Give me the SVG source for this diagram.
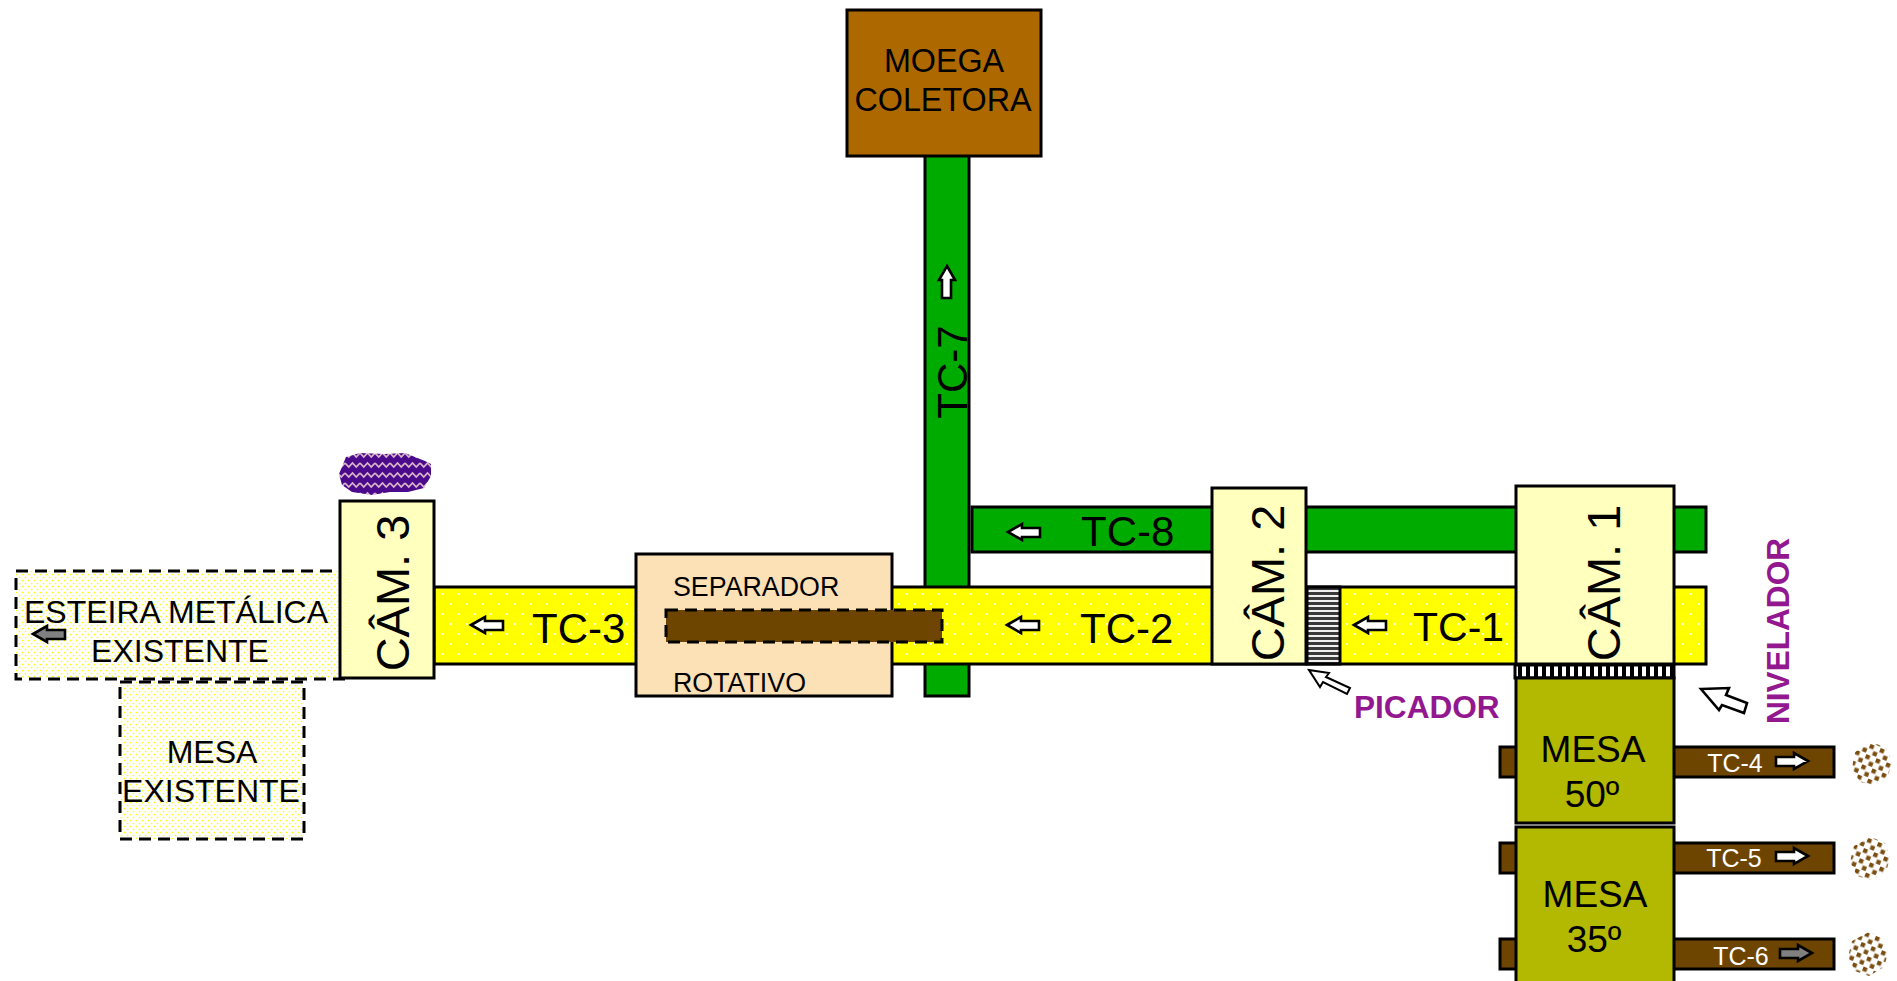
<svg xmlns="http://www.w3.org/2000/svg" width="1897" height="981" viewBox="0 0 1897 981">
<style>
text{font-family:"Liberation Sans",Arial,sans-serif;fill:#000}
.b{stroke:#000;stroke-width:3}
.green{fill:#00ab00}
.yel{fill:url(#pY)}
.cam{fill:#ffffbe}
.mesa{fill:#b3b800}
.brown{fill:#6e4500}
.dash{fill:url(#pD);stroke:#000;stroke-width:3;stroke-dasharray:12 7}
.arr{fill:#fff;stroke:#000;stroke-width:2.6}
.c{text-anchor:middle}
.pur{fill:#93188f;font-weight:bold;font-size:31.6px}
.w{fill:#fff;font-size:25px}
</style>
<defs>
<pattern id="pY" width="16" height="20" patternUnits="userSpaceOnUse"><rect width="16" height="20" fill="#ffff00"/><circle cx="3" cy="4" r="1.1" fill="#fff"/><circle cx="11" cy="14" r="1.1" fill="#fff"/></pattern>
<pattern id="pD" width="6" height="6" patternUnits="userSpaceOnUse"><rect width="6" height="6" fill="#fff"/><circle cx="1.5" cy="1.5" r="0.85" fill="#ffff00"/><circle cx="4.5" cy="4.5" r="0.85" fill="#ffff00"/></pattern>
<pattern id="pW" width="15" height="10" patternUnits="userSpaceOnUse"><rect width="15" height="10" fill="#4b0a8c"/><path d="M0 3 L3.75 7 L7.5 3 L11.25 7 L15 3" fill="none" stroke="#d8b4c8" stroke-width="1.8"/></pattern>
<pattern id="pS" width="6" height="5" patternUnits="userSpaceOnUse"><rect width="6" height="5" fill="#3a3a3a"/><rect width="6" height="2" fill="#f0f0f0"/></pattern>
<pattern id="pT" width="8" height="14" patternUnits="userSpaceOnUse"><rect width="8" height="14" fill="#000"/><rect x="2" width="4" height="14" fill="#fff"/></pattern>
<pattern id="pG" width="11" height="11" patternUnits="userSpaceOnUse" patternTransform="rotate(22)"><rect width="11" height="11" fill="#fff"/><rect x="0" y="0" width="4.4" height="4.4" fill="#7a4d10"/><rect x="5.5" y="5.5" width="4.4" height="4.4" fill="#7a4d10"/></pattern>
<path id="aL" d="M0 0 L14 -8 V-4 H32 V5 H14 V8 Z"/>
<path id="aR" d="M32 0 L18 -8 V-4 H0 V5 H18 V8 Z"/>
</defs>

<g id="tc7"><rect class="green b" x="925" y="150" width="44" height="546"/><text font-size="42" text-anchor="middle" transform="translate(967 372) rotate(-90)">TC-7</text></g>
<g id="tc8"><rect class="green b" x="972" y="507" width="734" height="45"/><text font-size="42" x="1081" y="546">TC-8</text></g>
<g id="tc-bar"><rect class="yel b" x="434" y="587" width="1272" height="77"/></g>
<g id="tc3-label"><text font-size="42" x="532" y="643">TC-3</text></g>
<g id="tc2-label"><text font-size="42" x="1080" y="643">TC-2</text></g>
<g id="tc1-label"><text font-size="41" x="1413" y="641">TC-1</text></g>

<g id="moega"><rect x="847" y="10" width="194" height="146" fill="#ad6800" class="b"/><text font-size="32.3" class="c" x="944" y="72">MOEGA</text><text font-size="32.3" class="c" x="943" y="111">COLETORA</text></g>

<g id="esteira"><rect class="dash" x="16" y="571" width="329" height="108"/><text font-size="32" class="c" x="176" y="623">ESTEIRA METÁLICA</text><text font-size="32" class="c" x="180" y="662">EXISTENTE</text></g>
<g id="mesa-existente"><rect class="dash" x="120" y="682" width="184" height="157"/><text font-size="32" class="c" x="212" y="763">MESA</text><text font-size="32" class="c" x="211" y="802">EXISTENTE</text></g>
<g id="residuo"><path d="M346 457 L360 453 L385 454 L405 453 L425 461 L431 464 L431 476 L424 488 L408 492 L390 492 L372 495 L352 492 L342 485 L339 474 Z" fill="url(#pW)"/></g>
<g id="cam3"><rect class="cam b" x="340" y="501" width="94" height="177"/><text font-size="47" class="c" transform="translate(409 593) rotate(-90)">CÂM. 3</text></g>

<g id="separador"><rect class="b" x="636" y="554" width="256" height="142" fill="#fce0b6"/><text font-size="26.8" x="673" y="596">SEPARADOR</text><text font-size="26.8" x="673" y="692">ROTATIVO</text><rect class="brown" x="666" y="610" width="276" height="32" stroke="#000" stroke-width="3" stroke-dasharray="12 7"/></g>

<g id="cam2"><rect class="cam b" x="1212" y="488" width="94" height="176"/><text font-size="47" class="c" transform="translate(1284 583) rotate(-90)">CÂM. 2</text></g>
<g id="picador"><rect class="b" x="1307" y="587" width="33" height="77" fill="url(#pS)"/><text class="pur" x="1354" y="718">PICADOR</text></g>
<g id="cam1"><rect class="cam b" x="1516" y="486" width="158" height="178"/><text font-size="47" class="c" transform="translate(1620 583) rotate(-90)">CÂM. 1</text></g>
<g id="nivelador"><rect class="b" x="1515" y="665" width="159" height="13" fill="url(#pT)"/><text class="pur c" transform="translate(1789 631) rotate(-90)">NIVELADOR</text></g>

<g id="tc4"><rect class="brown b" x="1500" y="747" width="334" height="30"/><text class="w c" x="1735" y="772">TC-4</text></g>
<g id="tc5"><rect class="brown b" x="1500" y="843" width="334" height="30"/><text class="w c" x="1734" y="867">TC-5</text></g>
<g id="tc6"><rect class="brown b" x="1500" y="939" width="334" height="30"/><text class="w c" x="1741" y="965">TC-6</text></g>
<g id="mesa50"><rect class="mesa b" x="1516" y="678" width="158" height="145"/><text font-size="37" class="c" x="1593" y="762">MESA</text><text font-size="37" class="c" x="1592" y="807">50º</text></g>
<g id="mesa35"><rect class="mesa b" x="1516" y="827" width="158" height="170"/><text font-size="37" class="c" x="1595" y="907">MESA</text><text font-size="37" class="c" x="1594" y="952">35º</text></g>

<g id="cana1"><path d="M1872 742 L1886 748 L1892 762 L1888 776 L1874 785 L1860 782 L1852 768 L1855 752 Z" fill="url(#pG)"/></g>
<g id="cana2"><path d="M1871 837 L1885 843 L1890 858 L1886 872 L1871 880 L1857 876 L1850 862 L1854 846 Z" fill="url(#pG)"/></g>
<g id="cana3"><path d="M1869 932 L1882 938 L1888 953 L1884 967 L1869 976 L1855 971 L1848 957 L1852 941 Z" fill="url(#pG)"/></g>

<g id="connectors">
<use href="#aL" class="arr" x="1008" y="532"/>
<use href="#aL" class="arr" x="1354" y="625"/>
<use href="#aL" class="arr" x="1007" y="625"/>
<use href="#aL" class="arr" x="471" y="625"/>
<use href="#aL" x="33" y="634" fill="#808080" stroke="#000" stroke-width="2.6"/>
<use href="#aL" class="arr" transform="translate(947 266) rotate(90)"/>
<use href="#aR" class="arr" x="1776" y="761"/>
<use href="#aR" class="arr" x="1776" y="856"/>
<use href="#aR" x="1780" y="953" fill="#808080" stroke="#000" stroke-width="2.6"/>
<path d="M1309 670 L1329 673 L1326 677 L1350 688 L1347 694 L1323 682 L1320 687 Z" fill="#fff" stroke="#000" stroke-width="2"/>
<path class="arr" d="M1701 689 L1729 688 L1726 695 L1747 703 L1744 713 L1722 705 L1719 710 Z"/>
</g>
</svg>
